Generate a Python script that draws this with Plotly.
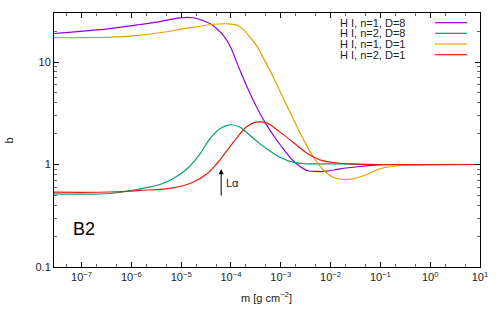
import math
import plotly.graph_objects as go

# ---- data ----
m_p = [2.79e-8, 9.29e-8, 3.72e-7, 1.49e-6, 3.75e-6, 9.46e-6, 1.73e-5, 2.74e-5, 4.35e-5, 8.32e-5,
       1.52e-4, 2.41e-4, 3.82e-4, 6.07e-4, 9.64e-4, 1.76e-3, 3.36e-3, 5.33e-3, 8.47e-3, 1.55e-2,
       3.9e-2, 9.8e-2, 0.624, 10.0]
b_p = [18.97, 19.85, 21.2, 23.2, 24.8, 27.0, 27.0, 25.4, 22.7, 16.2,
       8.26, 4.93, 3.15, 2.15, 1.567, 1.094, 0.874, 0.855, 0.860, 0.908,
       0.956, 0.993, 1.0, 1.0]

m_g = [2.79e-8, 3.72e-7, 1.49e-6, 3.75e-6, 6.84e-6, 1.31e-5, 2.39e-5, 3.78e-5, 6.01e-5, 9.55e-5,
       1.52e-4, 2.41e-4, 3.82e-4, 5.28e-4, 9.64e-4, 1.76e-3, 3.36e-3, 1.55e-2, 9.8e-2, 10.0]
b_g = [0.518, 0.521, 0.579, 0.638, 0.725, 0.908, 1.272, 1.781, 2.23, 2.44,
       2.31, 1.92, 1.59, 1.42, 1.178, 1.053, 1.016, 1.016, 1.0, 1.0]

m_o = [2.79e-8, 2.34e-7, 9.37e-7, 3.75e-6, 1.31e-5, 3.78e-5, 8.32e-5, 1.32e-4, 1.74e-4, 2.41e-4,
       3.33e-4, 4.40e-4, 6.97e-4, 1.107e-3, 1.76e-3, 2.79e-3, 4.43e-3, 7.03e-3, 1.12e-2, 1.77e-2,
       2.82e-2, 5.38e-2, 9.8e-2, 0.248, 0.99, 10.0]
b_o = [17.34, 17.34, 17.9, 19.3, 21.4, 23.1, 23.6, 22.9, 20.8, 17.5,
       14.2, 11.1, 7.22, 4.50, 2.81, 1.79, 1.197, 0.894, 0.752, 0.714,
       0.725, 0.799, 0.908, 0.978, 1.0, 1.0]

m_r = [2.79e-8, 3.72e-7, 1.49e-6, 6.84e-6, 1.73e-5, 3.30e-5, 5.24e-5, 8.32e-5, 1.32e-4, 2.09e-4,
       3.18e-4, 5.28e-4, 9.64e-4, 1.76e-3, 3.36e-3, 6.12e-3, 1.12e-2, 2.45e-2, 9.8e-2, 10.0]
b_r = [0.537, 0.539, 0.558, 0.592, 0.672, 0.811, 1.023, 1.37, 1.83, 2.35,
       2.59, 2.53, 2.07, 1.65, 1.29, 1.111, 1.046, 1.016, 1.0, 1.0]

series_names = ["H I, n=1, D=8", "H I, n=2, D=8", "H I, n=1, D=1", "H I, n=2, D=1"]
series_colors = ["#9400d3", "#009e73", "#e69f00", "#e51e10"]

x_tickvals = [1e-7, 1e-6, 1e-5, 1e-4, 1e-3, 1e-2, 1e-1, 1e0, 1e1]
x_ticktext = ["10<sup>−7</sup>", "10<sup>−6</sup>", "10<sup>−5</sup>", "10<sup>−4</sup>",
              "10<sup>−3</sup>", "10<sup>−2</sup>", "10<sup>−1</sup>", "10<sup>0</sup>", "10<sup>1</sup>"]
y_tickvals = [0.1, 1, 10]
y_ticktext = ["0.1", "1", "10"]

lyman_alpha_m = 6.35e-5

FONT = "Liberation Sans, Arial, sans-serif"

fig = go.Figure()
for mx, by, name, col in zip([m_p, m_g, m_o, m_r], [b_p, b_g, b_o, b_r], series_names, series_colors):
    fig.add_trace(go.Scatter(x=mx, y=by, mode="lines", name=name,
                             line=dict(color=col, width=1.2, shape="spline", smoothing=1.0),
                             showlegend=False, hoverinfo="skip"))

# manual gnuplot-style legend (text right, sample line at right)
rows_py = [22.7, 33.3, 44.0, 54.7]
for name, col, py in zip(series_names, series_colors, rows_py):
    yp = (267 - py) / 254
    fig.add_annotation(xref="paper", yref="paper", x=(407 - 54) / 426, y=yp, text=name,
                       showarrow=False, xanchor="right", yanchor="middle",
                       font=dict(family=FONT, size=11, color="#222"))
    fig.add_shape(type="line", xref="paper", yref="paper",
                  x0=(435 - 54) / 426, x1=(467 - 54) / 426, y0=yp, y1=yp,
                  line=dict(color=col, width=1.2))

# Lyman alpha arrow
fig.add_annotation(x=math.log10(lyman_alpha_m), y=math.log10(0.90),
                   ax=math.log10(lyman_alpha_m), ay=math.log10(0.48),
                   xref="x", yref="y", axref="x", ayref="y",
                   showarrow=True, arrowhead=2, arrowsize=1, arrowwidth=1, arrowcolor="black", text="")
fig.add_annotation(x=math.log10(lyman_alpha_m) + 0.05, y=math.log10(0.655), xref="x", yref="y",
                   text="Lα", showarrow=False, xanchor="left", yanchor="middle",
                   font=dict(family=FONT, size=11, color="#222"))

# panel label
fig.add_annotation(xref="paper", yref="paper", x=(71 - 54) / 426, y=(267 - 229) / 254,
                   text="B2", showarrow=False, xanchor="left", yanchor="middle",
                   font=dict(family=FONT, size=18, color="black"))

# axis titles
fig.add_annotation(xref="paper", yref="paper", x=(266 - 54) / 426, y=(267 - 297) / 254,
                   text="m [g cm<sup>−2</sup>]", showarrow=False, xanchor="center", yanchor="middle",
                   font=dict(family=FONT, size=11, color="#222"))
fig.add_annotation(xref="paper", yref="paper", x=(8.5 - 54) / 426, y=(267 - 141) / 254,
                   text="b", showarrow=False, textangle=-90, xanchor="center", yanchor="middle",
                   font=dict(family=FONT, size=11, color="#222"))

fig.update_xaxes(type="log", range=[-7.554, 1.0], tickmode="array", tickvals=x_tickvals,
                 ticktext=x_ticktext, ticks="inside", ticklen=5, tickcolor="black",
                 showline=True, linecolor="black", linewidth=1, mirror="ticks",
                 showgrid=False, zeroline=False,
                 minor=dict(ticks="inside", ticklen=3, dtick="D2", tickcolor="#666", showgrid=False),
                 tickfont=dict(family=FONT, size=11, color="#222"))
fig.update_yaxes(type="log", range=[-1.0, 1.478], tickmode="array", tickvals=y_tickvals,
                 ticktext=y_ticktext, ticks="inside", ticklen=5, tickcolor="black",
                 showline=True, linecolor="black", linewidth=1, mirror="ticks",
                 showgrid=False, zeroline=False,
                 minor=dict(ticks="inside", ticklen=3, dtick="D1", tickcolor="#666", showgrid=False),
                 tickfont=dict(family=FONT, size=11, color="#222"))

fig.update_layout(width=500, height=314, margin=dict(l=54, r=20, t=13, b=47),
                  plot_bgcolor="white", paper_bgcolor="white", showlegend=False)

fig.write_html("out.html", config={"displayModeBar": False},
               post_script="document.body.style.margin='0px';document.body.style.padding='0px';")
